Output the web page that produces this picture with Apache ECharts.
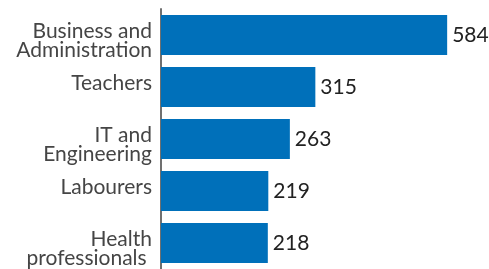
<!DOCTYPE html>
<html><head><meta charset="utf-8">
<script src="https://cdn.jsdelivr.net/npm/echarts@6/dist/echarts.min.js"></script>
<style>html,body{margin:0;padding:0;background:#fff}#c{width:489px;height:269px}</style>
</head><body><div id="c"></div>
<script>
const categories = ['Business and\nAdministration', 'Teachers', 'IT and\nEngineering', 'Labourers', 'Health\nprofessionals '];
const values = [584, 315, 263, 219, 218];

const chart = echarts.init(document.getElementById('c'), null, {renderer: 'canvas'});
const base = { fontFamily: 'Lato', fontSize: 21, color: '#454545', lineHeight: 19, align: 'right' };
chart.setOption({
  animation: false,
  grid: { left: 161, right: 34, top: 9, bottom: 0 },
  xAxis: { type: 'value', min: 0, max: 600, show: false },
  yAxis: {
    type: 'category', inverse: true, data: categories,
    axisLine: { show: true, lineStyle: { color: '#707070', width: 2 } },
    axisTick: { show: false },
    axisLabel: {
      margin: 9, align: 'right',
      formatter: function (v) {
        const parts = v.split('\n');
        if (parts.length > 1) return '{e| }\n{d|' + parts[0] + '}\n{d|' + parts[1] + '}';
        return '{s|' + v + '}';
      },
      rich: {
        s: Object.assign({}, base, { padding: [0, 0, 8, 0] }),
        d: Object.assign({}, base),
        e: { fontSize: 8, lineHeight: 11, height: 11 }
      }
    }
  },
  series: [{
    type: 'bar', data: values, barCategoryGap: '23%',
    itemStyle: { color: '#0070BA' },
    label: { show: true, position: 'right', distance: 5, fontFamily: 'Lato', fontSize: 21, color: '#222' }
  }]
});
</script></body></html>
